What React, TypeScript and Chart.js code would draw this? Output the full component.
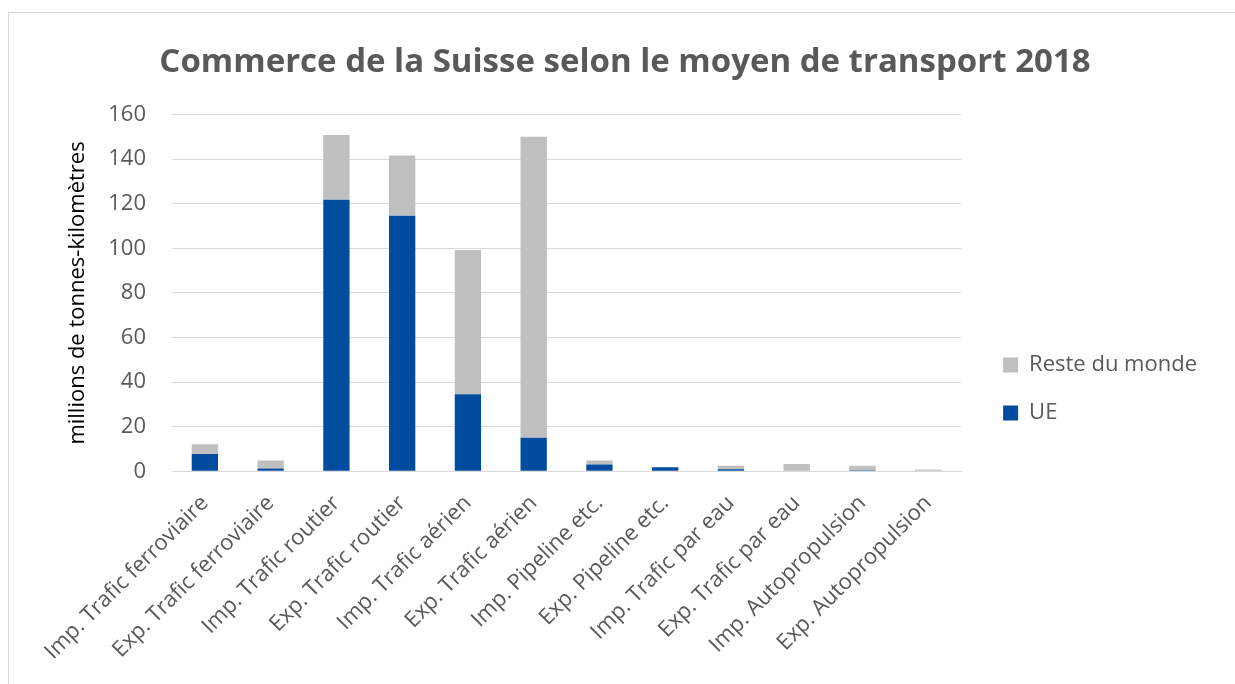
import React, { useEffect, useRef } from 'react';
import { Chart, registerables } from 'chart.js';

Chart.register(...registerables);

const titleText = 'Commerce de la Suisse selon le moyen de transport 2018';
const yAxisTitle = 'millions de tonnes-kilomètres';

const categories = [
  'Imp. Trafic ferroviaire',
  'Exp. Trafic ferroviaire',
  'Imp. Trafic routier',
  'Exp. Trafic routier',
  'Imp. Trafic aérien',
  'Exp. Trafic aérien',
  'Imp. Pipeline etc.',
  'Exp. Pipeline etc.',
  'Imp. Trafic par eau',
  'Exp. Trafic par eau',
  'Imp. Autopropulsion',
  'Exp. Autopropulsion',
];

const ueLabel = 'UE';
const restLabel = 'Reste du monde';

const ueValues = [7.8, 1.3, 121.8, 114.6, 34.6, 15.1, 3.1, 1.8, 0.9, 0, 0.5, 0.3];
const restValues = [4.3, 3.5, 29.1, 27.0, 64.7, 135.0, 1.7, 0, 1.6, 3.3, 2.0, 0.5];

const yTicks = { min: 0, max: 160, step: 20 };

const FONT = "'Open Sans', 'Noto Sans', sans-serif";
const GREY_TEXT = '#595959';

export default function App() {
  const canvasRef = useRef<HTMLCanvasElement | null>(null);

  useEffect(() => {
    const canvas = canvasRef.current;
    if (!canvas) return;
    const chart = new Chart(canvas, {
      type: 'bar',
      data: {
        labels: categories,
        datasets: [
          {
            label: ueLabel,
            data: ueValues,
            backgroundColor: '#024CA0',
            borderWidth: 0,
            yAxisID: 'y',
          },
          {
            label: restLabel,
            data: restValues,
            backgroundColor: '#BFBFBF',
            borderWidth: 0,
            yAxisID: 'y',
          },
        ],
      },
      options: {
        animation: false,
        responsive: false,
        maintainAspectRatio: false,
        datasets: {
          bar: { barPercentage: 0.4, categoryPercentage: 1 },
        },
        layout: { padding: { left: 34, right: 28, top: 30, bottom: 0 } },
        plugins: {
          title: {
            display: true,
            text: titleText,
            color: GREY_TEXT,
            font: { family: FONT, size: 33, weight: 'bold' },
            padding: { top: 0, bottom: 32 },
          },
          legend: {
            position: 'right',
            reverse: true,
            title: {
              display: true,
              text: ' ',
              font: { family: FONT, size: 10 },
              padding: { top: 39, bottom: 0 },
            },
            labels: {
              boxWidth: 15,
              boxHeight: 15,
              padding: 26,
              color: GREY_TEXT,
              font: { family: FONT, size: 22 },
            },
          },
          tooltip: { enabled: false },
        },
        scales: {
          x: {
            stacked: true,
            grid: { display: false, drawTicks: false },
            border: { display: true, color: '#D9D9D9', width: 1 },
            ticks: {
              color: GREY_TEXT,
              font: { family: FONT, size: 22 },
              minRotation: 45,
              maxRotation: 45,
              autoSkip: false,
              padding: 19,
            },
          },
          y: {
            stacked: true,
            min: yTicks.min,
            max: yTicks.max,
            grid: { color: '#D9D9D9', lineWidth: 1, drawTicks: false },
            border: { display: false },
            ticks: {
              stepSize: yTicks.step,
              color: GREY_TEXT,
              font: { family: FONT, size: 22 },
              padding: 26,
            },
            title: {
              display: true,
              text: yAxisTitle,
              color: '#000000',
              font: { family: FONT, size: 22 },
              padding: { top: 22, bottom: 0 },
            },
            afterFit: (s: any) => {
              s.width = 129;
            },
          },
          yR: {
            position: 'right',
            display: false,
            grid: { display: false, drawTicks: false },
            border: { display: false },
            ticks: { display: false },
            afterFit: (s: any) => {
              s.width = 16;
            },
          },
        },
      },
    });
    return () => chart.destroy();
  }, []);

  return (
    <div
      style={{
        position: 'fixed',
        left: 0,
        top: 0,
        width: 1235,
        height: 684,
        overflow: 'hidden',
        background: '#ffffff',
      }}
    >
      <div
        style={{
          position: 'absolute',
          left: 8,
          top: 12,
          width: 1250,
          height: 700,
          border: '1px solid #D9D9D9',
          boxSizing: 'border-box',
        }}
      >
        <canvas
          ref={canvasRef}
          width={1226}
          height={671}
          style={{ display: 'block', width: 1226, height: 671 }}
        />
      </div>
    </div>
  );
}
